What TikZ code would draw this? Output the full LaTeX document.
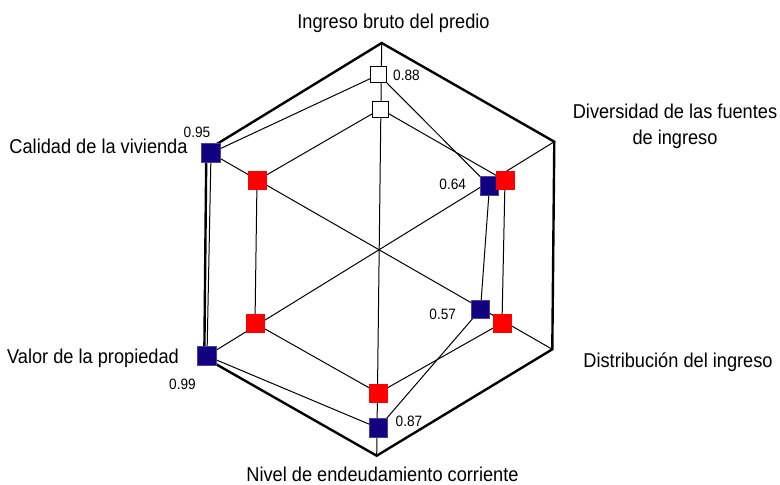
\documentclass[tikz,border=0pt]{standalone}
\usepackage{fontspec}
\setmainfont{Liberation Sans}[FakeStretch=0.91]
\usetikzlibrary{backgrounds}
\definecolor{navy}{HTML}{11007F}
\definecolor{navyedge}{HTML}{4A40A0}
\begin{document}
\begin{tikzpicture}[x=1pt,y=-1pt,
  axisline/.style={line width=2.4pt, line join=miter},
  spoke/.style={line width=1pt},
  series/.style={line width=1pt},
  bm/.style={draw=navyedge, line width=0.6pt, fill=navy, minimum size=18.5pt, inner sep=0pt},
  rm/.style={fill=red, minimum size=19pt, inner sep=0pt},
  wm/.style={draw=black, fill=white, line width=1pt, minimum size=16pt, inner sep=0pt},
  cat/.style={font=\fontsize{20}{26}\selectfont, inner sep=0pt, anchor=base},
  val/.style={font=\fontsize{15}{17}\selectfont, inner sep=0pt}]
\useasboundingbox (0,0) rectangle (780,485);
% hexagon vertices
\coordinate (T)  at (381.7,43);
\coordinate (UR) at (554.3,141.7);
\coordinate (LR) at (552.3,349.3);
\coordinate (B)  at (376.7,455.7);
\coordinate (LL) at (204.3,357.5);
\coordinate (UL) at (206.3,150.5);
% markers: series 1 (blue)
\node[wm] (b1) at (378.7,74.7) {};
\node[bm] (b2) at (489.5,186) {};
\node[bm] (b3) at (480.5,309.5) {};
\node[bm] (b4) at (378.3,428) {};
\node[bm] (b5) at (207,356) {};
\node[bm] (b6) at (211,153) {};
% markers: series 2 (red)
\node[wm] (r1) at (380.5,109) {};
\node[rm] (r2) at (505,180.5) {};
\node[rm] (r3) at (502,323) {};
\node[rm] (r4) at (378.3,393) {};
\node[rm] (r5) at (255,323.3) {};
\node[rm] (r6) at (257,180.5) {};
\begin{pgfonlayer}{background}
  \fill[white] (0,0) rectangle (780,485);
  \draw[axisline] (T) -- (UR) -- (LR) -- (B) -- (LL) -- (UL) -- cycle;
  \draw[spoke] (T) -- (B);
  \draw[spoke] (UR) -- (LL);
  \draw[spoke] (LR) -- (UL);
  \draw[series] (b1.center) -- (b2.center) -- (b3.center) -- (b4.center) -- (b5.center) -- (b6.center) -- cycle;
  \draw[series] (r1.center) -- (r2.center) -- (r3.center) -- (r4.center) -- (r5.center) -- (r6.center) -- cycle;
\end{pgfonlayer}
% category labels
\node[cat] (l1) at (393.5,28.3) {Ingreso bruto del predio};
\node[cat, align=center, anchor=base] (l2) at (675,144) {Diversidad de las fuentes\\de ingreso};
\node[cat] (l3) at (678,367) {Distribución del ingreso};
\node[cat] (l4) at (382.5,481) {Nivel de endeudamiento corriente};
\node[cat] (l5) at (93,363) {Valor de la propiedad};
\node[cat] (l6) at (98.5,153) {Calidad de la vivienda};
% value labels
\node[val] (v1) at (406.5,75) {0.88};
\node[val] (v2) at (452.7,184.7) {0.64};
\node[val] (v3) at (442.7,314.7) {0.57};
\node[val] (v4) at (409,421.7) {0.87};
\node[val] (v5) at (182.5,384.5) {0.99};
\node[val] (v6) at (197,132) {0.95};
\end{tikzpicture}
\end{document}
